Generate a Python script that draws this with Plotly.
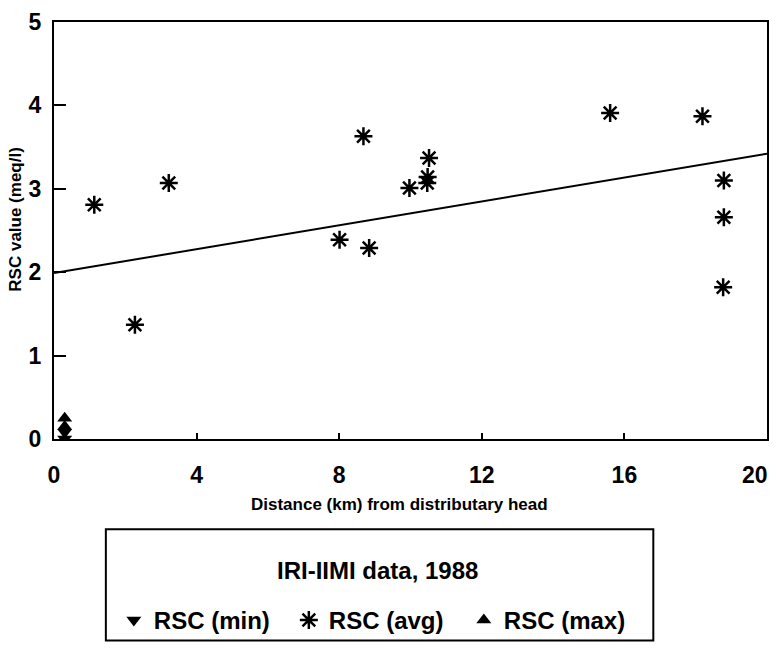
import plotly.graph_objects as go

# Average RSC along the distributary (km from head, meq/l)
dist_avg = [1.13, 2.27, 3.22, 8.01, 8.68, 8.84, 9.97, 10.52, 10.48, 10.47,
            15.60, 18.19, 18.79, 18.79, 18.77]
rsc_avg = [2.81, 1.37, 3.07, 2.39, 3.63, 2.29, 3.01, 3.37, 3.14, 3.07,
           3.91, 3.87, 3.10, 2.66, 1.82]

# Minimum / maximum RSC readings at the head
dist_min = [0.3, 0.3]
rsc_min = [0.0, 0.08]
dist_max = [0.3, 0.3]
rsc_max = [0.15, 0.25]

# Linear trend of average RSC with distance
trend_x = [0, 20]
trend_y = [1.99, 3.42]

x_ticks = [0, 4, 8, 12, 16, 20]
x_tick_text = ["0", "4", "8", "12", "16", "20"]
y_ticks = [0, 1, 2, 3, 4, 5]

legend_title = "IRI-IIMI data, 1988"

FONT = "Liberation Sans, Arial, Helvetica, sans-serif"
L, R, T, B = 54, 769, 22, 442
W, H = 776, 650
pw, ph = R - L, B - T


def px_x(p):
    return (p - L) / pw


def px_y(p):
    return (B - p) / ph


fig = go.Figure()

fig.add_trace(go.Scatter(
    x=trend_x, y=trend_y, mode="lines",
    line=dict(color="black", width=2), showlegend=False, hoverinfo="skip"))

fig.add_trace(go.Scatter(
    x=dist_min, y=rsc_min, mode="markers", name="RSC (min)",
    marker=dict(symbol="triangle-down", size=13, color="black")))

fig.add_trace(go.Scatter(
    x=dist_avg, y=rsc_avg, mode="markers", name="RSC (avg)",
    marker=dict(symbol="asterisk-open", size=15, color="black",
                line=dict(color="black", width=2.5))))

fig.add_trace(go.Scatter(
    x=dist_max, y=rsc_max, mode="markers", name="RSC (max)",
    marker=dict(symbol="triangle-up", size=13, color="black")))

tick_font = dict(family=FONT, size=23, color="black", weight="bold")
axis_common = dict(
    showgrid=False, zeroline=False, showline=True, linecolor="black",
    linewidth=2, mirror=True, ticks="inside", tickcolor="black",
    tickwidth=1.5, tickfont=tick_font,
)

# The last x label sits against the page edge, so it is placed as an
# annotation pulled in from the right border.
fig.update_xaxes(range=[0, 20], tickvals=x_ticks,
                 ticktext=x_tick_text[:-1] + [""], ticklen=6,
                 ticklabelstandoff=14, **axis_common)
fig.update_yaxes(range=[0, 5], tickvals=y_ticks, ticklen=12,
                 ticklabelstandoff=6, **axis_common)

fig.add_annotation(
    text=x_tick_text[-1], x=x_ticks[-1], xref="x", yref="paper",
    y=px_y(478), xanchor="right", yanchor="middle", showarrow=False,
    xshift=3, font=tick_font)

fig.add_annotation(
    text="Distance (km) from distributary head", xref="paper", yref="paper",
    x=px_x(400), y=px_y(508), showarrow=False, xanchor="center", yanchor="middle",
    font=dict(family=FONT, size=17, color="black", weight="bold"))

fig.add_annotation(
    text="RSC value (meq/l)", xref="paper", yref="paper",
    x=px_x(15), y=px_y(221), showarrow=False, textangle=-90,
    xanchor="center", yanchor="middle",
    font=dict(family=FONT, size=17, color="black", weight="bold"))

# Legend frame and heading
fig.add_shape(type="rect", xref="paper", yref="paper",
              x0=px_x(106), x1=px_x(655), y0=px_y(533), y1=px_y(645),
              line=dict(color="black", width=2), fillcolor="rgba(0,0,0,0)")

fig.add_annotation(
    text=legend_title, xref="paper", yref="paper",
    x=px_x(378), y=px_y(574), showarrow=False, xanchor="center", yanchor="middle",
    font=dict(family=FONT, size=24, color="black", weight="bold"))

fig.update_layout(
    width=W, height=H,
    margin=dict(l=L, r=W - R, t=T, b=H - B, pad=0),
    paper_bgcolor="white", plot_bgcolor="white",
    font=dict(family=FONT, color="black"),
    legend=dict(
        orientation="h", x=px_x(114), y=px_y(602), xanchor="left", yanchor="top",
        bgcolor="rgba(0,0,0,0)", borderwidth=0,
        entrywidth=130, entrywidthmode="pixels",
        font=dict(family=FONT, size=24, color="black", weight="bold"),
    ),
)

fig.write_html("out.html")
